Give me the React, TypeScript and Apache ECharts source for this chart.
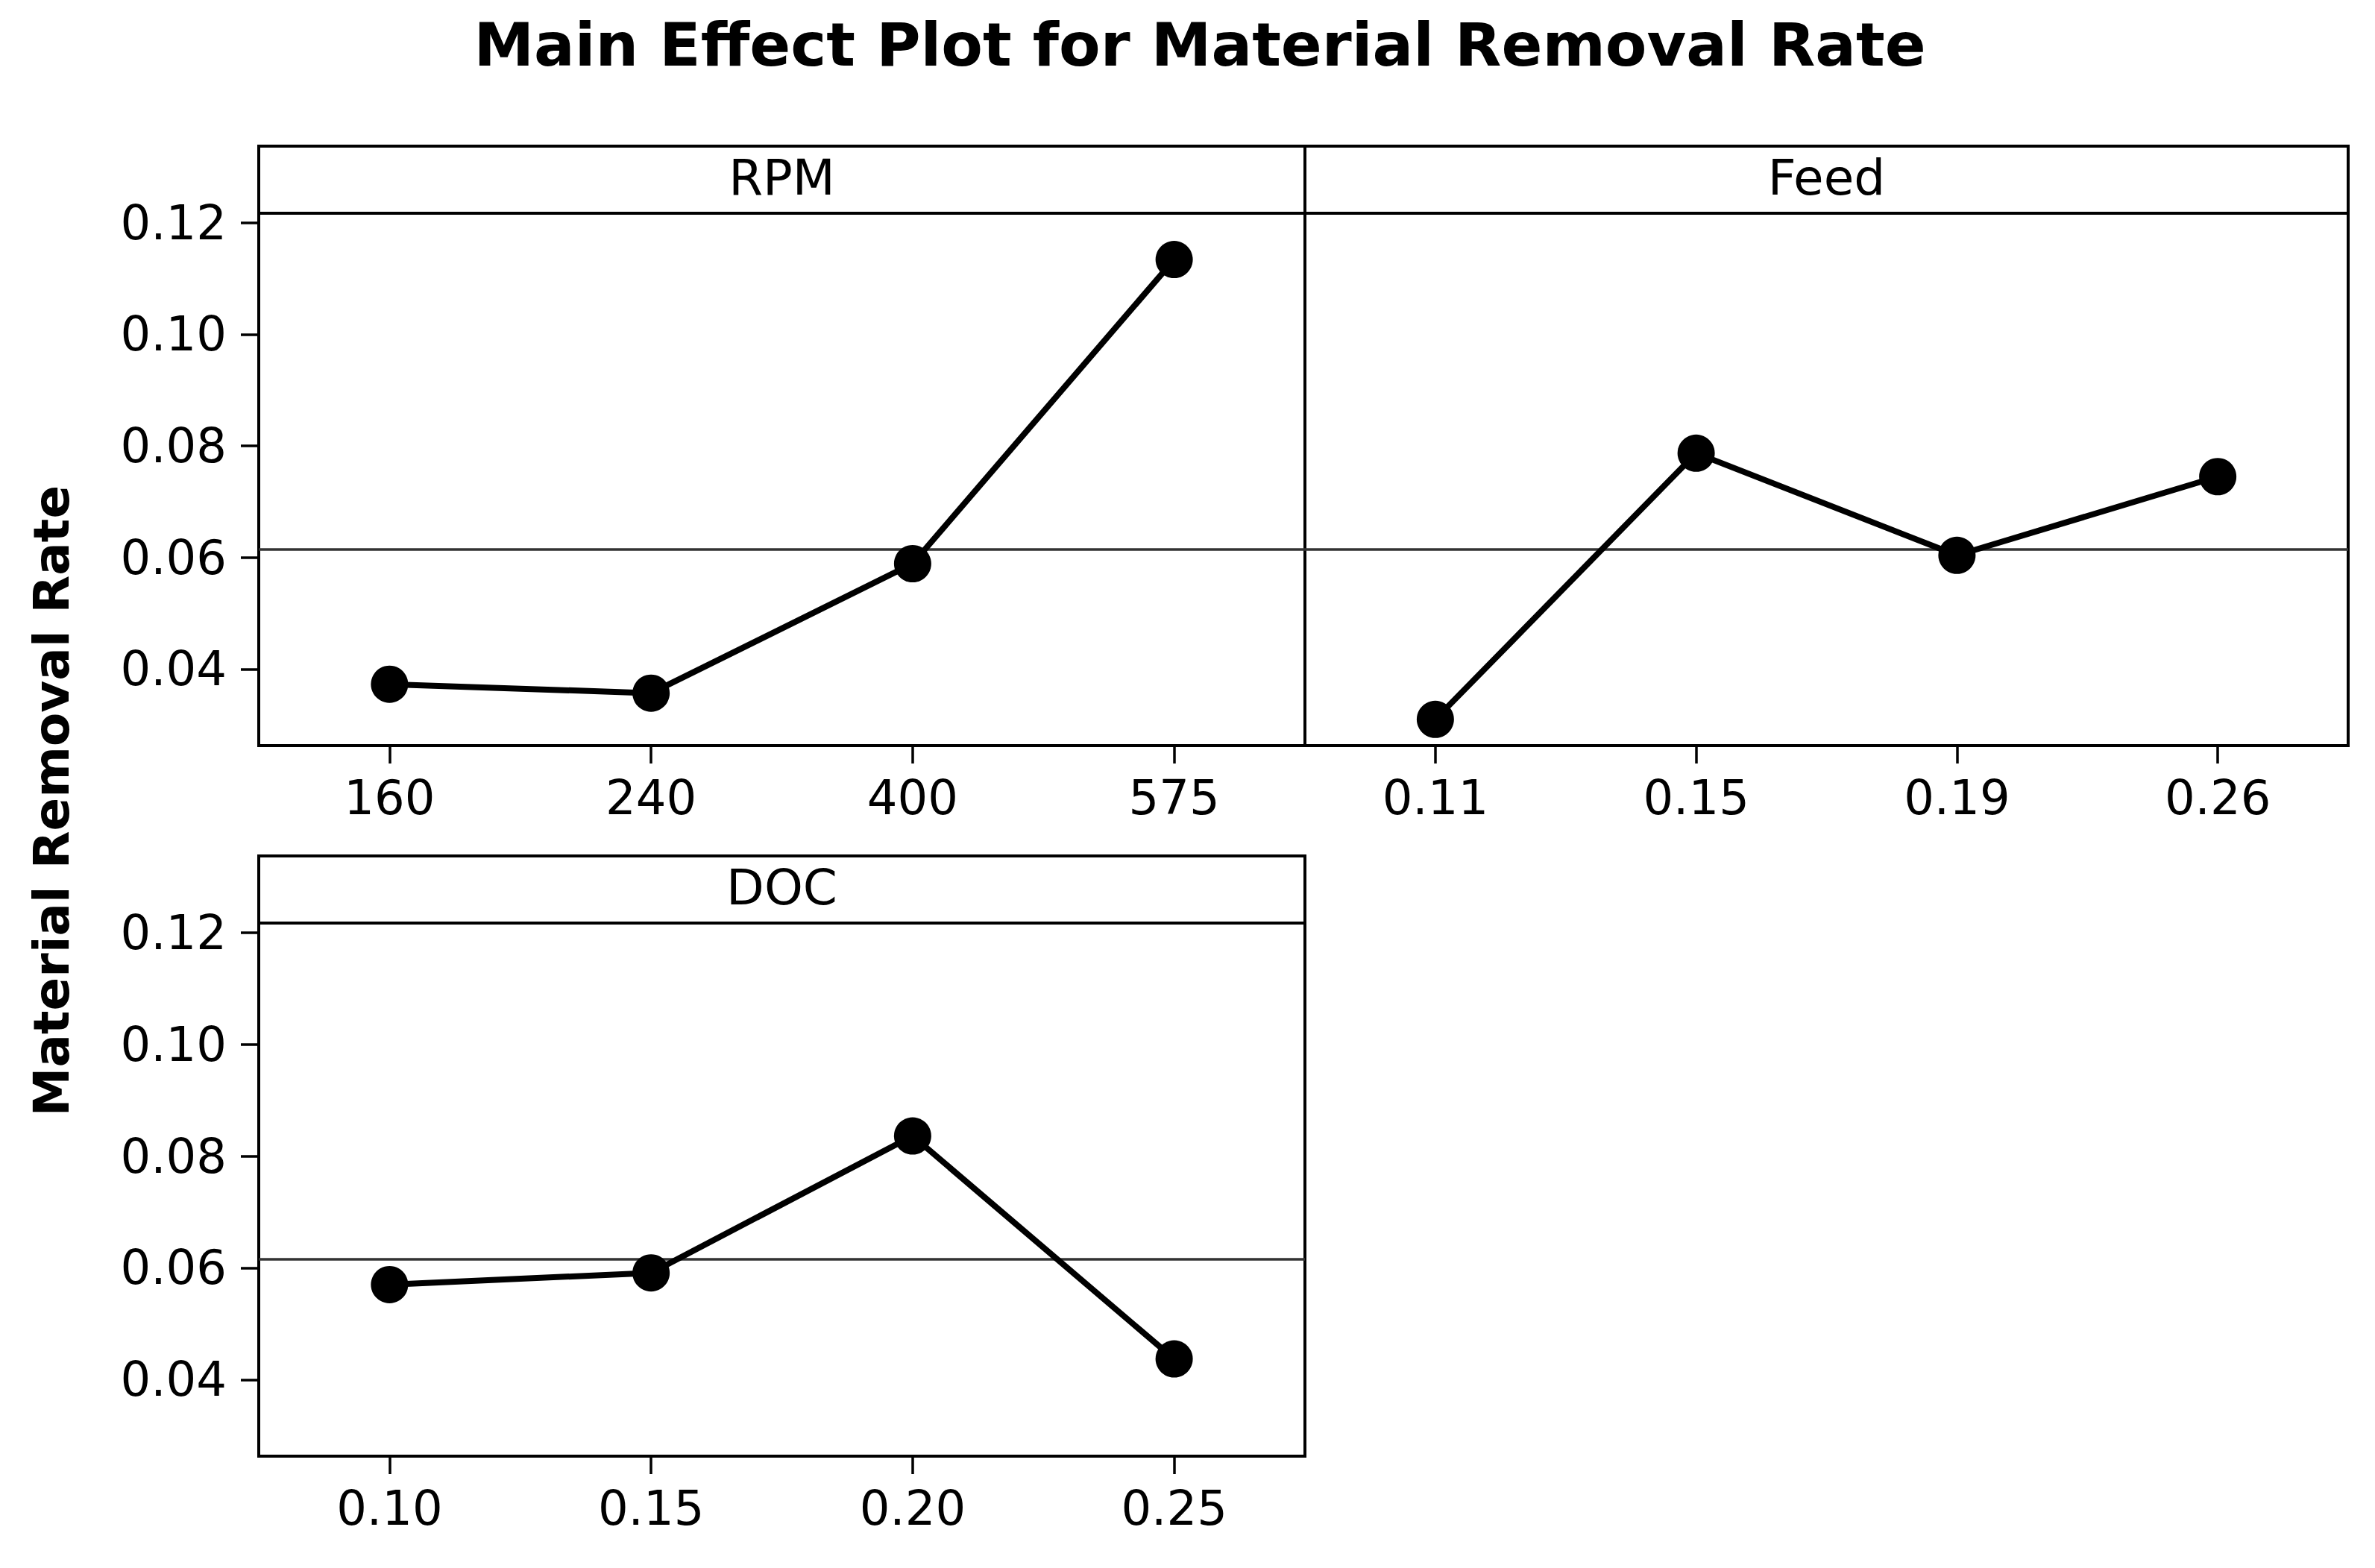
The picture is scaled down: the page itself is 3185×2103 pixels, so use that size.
import React, { useEffect, useRef } from "react";
import * as echarts from "echarts";

const rpmLevels = ["160", "240", "400", "575"];
const rpmMeans = [0.0373, 0.0357, 0.0589, 0.1134];
const feedLevels = ["0.11", "0.15", "0.19", "0.26"];
const feedMeans = [0.031, 0.0787, 0.0604, 0.0745];
const docLevels = ["0.10", "0.15", "0.20", "0.25"];
const docMeans = [0.057, 0.0591, 0.0836, 0.0437];
const yTicks = [0.04, 0.06, 0.08, 0.1, 0.12];
const grandMean = 0.0615;
const panelTitles = ["RPM", "Feed", "DOC"];
const chartTitle = "Main Effect Plot for Material Removal Rate";
const yAxisTitle = "Material Removal Rate";

const FONT = "'DejaVu Sans', Verdana, sans-serif";
const Y_MIN = 0.0263;
const Y_MAX = 0.1217;

const panels = [
  { left: 347, top: 286, width: 1403, height: 714, levels: rpmLevels, values: rpmMeans, showY: true },
  { left: 1750, top: 286, width: 1399, height: 714, levels: feedLevels, values: feedMeans, showY: false },
  { left: 347, top: 1238, width: 1403, height: 715, levels: docLevels, values: docMeans, showY: true },
];
const STRIP_H = 90;

export default function App() {
  const ref = useRef<HTMLDivElement>(null);
  useEffect(() => {
    if (!ref.current) return;
    const chart = echarts.init(ref.current, undefined, { renderer: "svg" });
    const grid = panels.map((p) => ({
      left: p.left,
      top: p.top,
      width: p.width,
      height: p.height,
      show: true,
      borderColor: "#000",
      borderWidth: 4,
      backgroundColor: "transparent",
      containLabel: false,
      outerBoundsMode: "none",
    }));
    const xAxis = panels.map((p, i) => ({
      type: "category",
      gridIndex: i,
      data: p.levels,
      boundaryGap: true,
      axisLine: { show: false },
      axisTick: { show: true, alignWithLabel: true, inside: false, length: 24, lineStyle: { color: "#000", width: 3.5 } },
      axisLabel: { show: true, color: "#000", fontSize: 64, fontFamily: FONT, margin: 38 },
      splitLine: { show: false },
    }));
    const yAxis = panels.map((p, i) => ({
      type: "value",
      gridIndex: i,
      min: Y_MIN,
      max: Y_MAX,
      axisLine: { show: false },
      splitLine: { show: false },
      axisTick: {
        show: p.showY,
        inside: false,
        length: 24,
        customValues: yTicks,
        lineStyle: { color: "#000", width: 3.5 },
      },
      axisLabel: {
        show: p.showY,
        color: "#000",
        fontSize: 64,
        fontFamily: FONT,
        margin: 43,
        customValues: yTicks,
        formatter: (v: number) => v.toFixed(2),
      },
    }));
    const series = panels.map((p, i) => ({
      type: "line",
      xAxisIndex: i,
      yAxisIndex: i,
      data: p.values,
      symbol: "circle",
      symbolSize: 50,
      lineStyle: { color: "#000", width: 8 },
      itemStyle: { color: "#000" },
      z: 3,
      markLine: {
        silent: true,
        symbol: "none",
        precision: 6,
        label: { show: false },
        lineStyle: { color: "#333", width: 3.5, type: "solid" },
        data: [{ yAxis: grandMean }],
        z: 2,
      },
    }));
    const graphic: any[] = [];
    panels.forEach((p, i) => {
      graphic.push({
        type: "rect",
        shape: { x: p.left, y: p.top - STRIP_H, width: p.width, height: STRIP_H },
        style: { fill: "none", stroke: "#000", lineWidth: 4 },
      });
      graphic.push({
        type: "text",
        x: p.left + p.width / 2,
        y: p.top - STRIP_H / 2 - 3,
        style: {
          text: panelTitles[i],
          fill: "#000",
          fontSize: 66,
          fontFamily: FONT,
          textAlign: "center",
          verticalAlign: "middle",
        },
      });
    });
    graphic.push({
      type: "text",
      x: 1609,
      y: 60,
      style: {
        text: chartTitle,
        fill: "#000",
        fontSize: 81,
        fontWeight: "bold",
        fontFamily: FONT,
        textAlign: "center",
        verticalAlign: "middle",
      },
    });
    graphic.push({
      type: "text",
      x: 69,
      y: 1074,
      rotation: Math.PI / 2,
      style: {
        text: yAxisTitle,
        fill: "#000",
        fontSize: 66,
        fontWeight: "bold",
        fontFamily: FONT,
        textAlign: "center",
        verticalAlign: "middle",
      },
    });
    chart.setOption({
      animation: false,
      backgroundColor: "#fff",
      grid,
      xAxis,
      yAxis,
      series,
      graphic,
    } as any);
    return () => chart.dispose();
  }, []);
  return (
    <div
      ref={ref}
      style={{ position: "absolute", left: 0, top: 0, width: 3185, height: 2103, background: "#fff" }}
    />
  );
}
